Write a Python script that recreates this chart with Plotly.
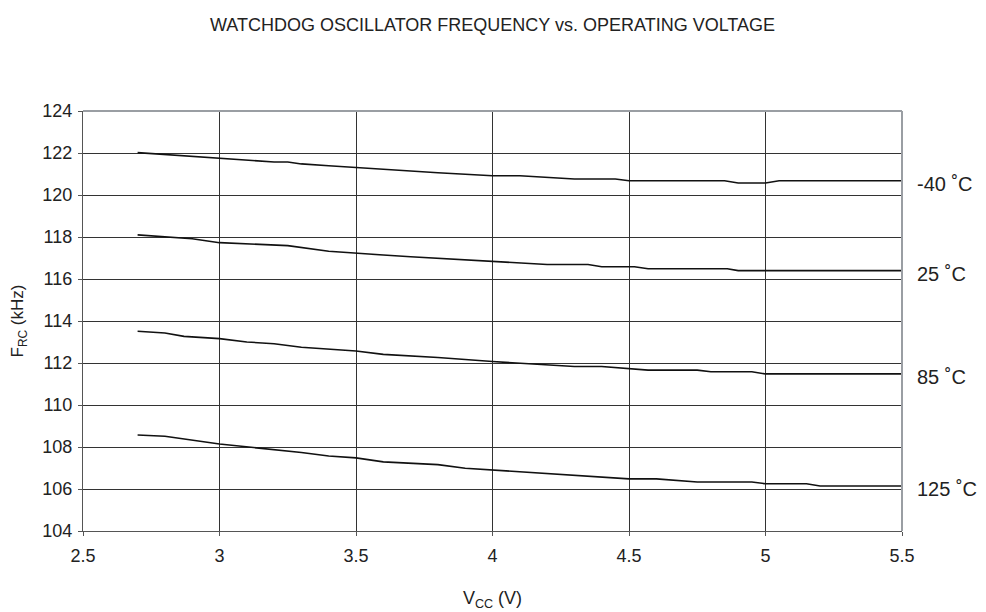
import plotly.graph_objects as go

# Supply voltage (V) and oscillator frequency (kHz) per temperature
V_M40 = [2.7, 2.8, 2.9, 3.0, 3.1, 3.2, 3.25, 3.3, 3.4, 3.5, 3.6, 3.7, 3.8, 3.9, 4.0, 4.1, 4.2, 4.3, 4.45, 4.5, 4.85, 4.9, 5.0, 5.05, 5.5]
F_M40 = [122.02, 121.93, 121.83, 121.73, 121.65, 121.57, 121.57, 121.48, 121.39, 121.30, 121.22, 121.14, 121.06, 120.99, 120.92, 120.92, 120.84, 120.76, 120.76, 120.68, 120.68, 120.57, 120.57, 120.68, 120.68]

V_25 = [2.7, 2.8, 2.9, 3.0, 3.1, 3.2, 3.25, 3.4, 3.5, 3.6, 3.7, 3.8, 3.9, 4.0, 4.1, 4.2, 4.35, 4.4, 4.52, 4.57, 4.86, 4.9, 5.5]
F_25 = [118.10, 118.02, 117.92, 117.73, 117.66, 117.60, 117.59, 117.32, 117.22, 117.14, 117.06, 116.98, 116.90, 116.82, 116.75, 116.69, 116.69, 116.58, 116.58, 116.49, 116.49, 116.40, 116.40]

V_85 = [2.7, 2.8, 2.87, 3.0, 3.1, 3.2, 3.3, 3.5, 3.6, 3.8, 4.0, 4.3, 4.4, 4.5, 4.57, 4.75, 4.8, 4.95, 5.0, 5.5]
F_85 = [113.51, 113.43, 113.27, 113.16, 113.00, 112.92, 112.75, 112.57, 112.41, 112.26, 112.07, 111.83, 111.83, 111.75, 111.66, 111.66, 111.58, 111.58, 111.48, 111.48]

V_125 = [2.7, 2.8, 3.0, 3.1, 3.2, 3.3, 3.4, 3.5, 3.6, 3.8, 3.9, 4.0, 4.1, 4.2, 4.3, 4.4, 4.5, 4.6, 4.75, 4.95, 5.0, 5.15, 5.2, 5.5]
F_125 = [108.57, 108.51, 108.14, 108.00, 107.89, 107.74, 107.57, 107.48, 107.29, 107.16, 106.99, 106.90, 106.82, 106.74, 106.66, 106.57, 106.48, 106.48, 106.33, 106.33, 106.25, 106.25, 106.14, 106.14]

LABELS = ["-40 ˚C", "25 ˚C", "85 ˚C", "125 ˚C"]
X_TICKS = [2.5, 3, 3.5, 4, 4.5, 5, 5.5]
Y_TICKS = [104, 106, 108, 110, 112, 114, 116, 118, 120, 122, 124]

series = [(V_M40, F_M40), (V_25, F_25), (V_85, F_85), (V_125, F_125)]

FONT = "Liberation Sans, Arial, sans-serif"
W, H = 978, 604  # page body has an 8px margin
fig = go.Figure()
for (vx, fy), lab in zip(series, LABELS):
    fig.add_trace(go.Scatter(x=vx, y=fy, mode="lines", name=lab,
                             line=dict(color="#111111", width=1.6), showlegend=False))
    fig.add_annotation(x=5.5, y=fy[-1] - 0.15, xref="x", yref="y", text=lab,
                       showarrow=False, xanchor="left", yanchor="middle", xshift=13,
                       font=dict(family=FONT, size=20, color="#222222"))

fig.update_layout(
    template="none",
    width=W, height=H,
    margin=dict(l=75, r=84, t=103, b=81, autoexpand=False),
    paper_bgcolor="white", plot_bgcolor="white",
    title=dict(text="WATCHDOG OSCILLATOR FREQUENCY vs. OPERATING VOLTAGE",
               x=0.5, xanchor="center", xref="paper", y=1 - 17 / H, yanchor="middle",
               font=dict(family=FONT, size=18, color="#222222")),
    font=dict(family=FONT, size=18, color="#222222"),
    showlegend=False,
)
fig.update_xaxes(range=[2.5, 5.5], tickvals=X_TICKS, ticktext=[str(t) for t in X_TICKS],
                 showgrid=True, gridcolor="#333333", gridwidth=1.2,
                 showline=True, linecolor="#555555", linewidth=1.2,
                 ticks="outside", ticklen=4, tickcolor="#555555", tickwidth=1.2,
                 ticklabelstandoff=4, automargin=False,
                 zeroline=False,
                 tickfont=dict(family=FONT, size=18, color="#222222"),
                 title=dict(text="V<sub>CC</sub> (V)", standoff=26,
                            font=dict(family=FONT, size=18, color="#222222")))
fig.update_yaxes(range=[104, 124], tickvals=Y_TICKS,
                 showgrid=True, gridcolor="#333333", gridwidth=1.2,
                 showline=True, linecolor="#555555", linewidth=1.2,
                 ticks="outside", ticklen=4, tickcolor="#555555", tickwidth=1.2,
                 ticklabelstandoff=2, automargin=False,
                 zeroline=False,
                 tickfont=dict(family=FONT, size=18, color="#222222"),
                 title=dict(text="F<sub>RC</sub> (kHz)", standoff=14,
                            font=dict(family=FONT, size=17, color="#222222")))
# light grey top and right frame
fig.add_shape(type="line", xref="paper", yref="paper", x0=0, x1=1, y0=1, y1=1,
              line=dict(color="#9a9ea3", width=2), layer="above")
fig.add_shape(type="line", xref="paper", yref="paper", x0=1, x1=1, y0=0, y1=1,
              line=dict(color="#9a9ea3", width=2), layer="above")

fig.write_html("out.html")
